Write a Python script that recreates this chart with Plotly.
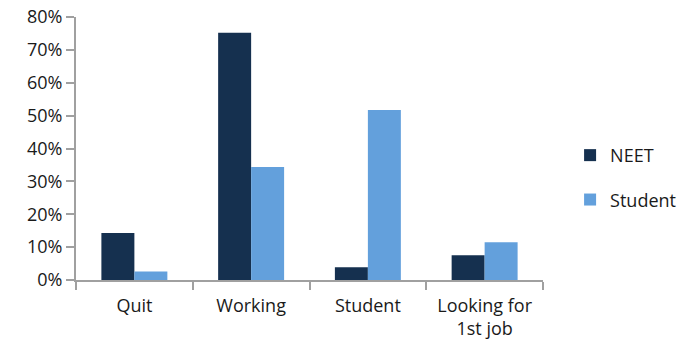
import plotly.graph_objects as go

categories = ["Quit", "Working", "Student", "Looking for<br>1st job"]
neet = [14.3, 75.2, 3.9, 7.5]
student = [2.6, 34.4, 51.7, 11.5]
y_ticks = [0, 10, 20, 30, 40, 50, 60, 70, 80]
y_tick_text = [f"{v}%" for v in y_ticks]

fig = go.Figure()
fig.add_trace(go.Bar(name="NEET", x=categories, y=neet, marker=dict(color="#15304F", line=dict(width=0)), legendgroup="a"))
fig.add_trace(go.Bar(name="Student", x=categories, y=student, marker=dict(color="#63A0DC", line=dict(width=0)), legendgroup="b"))

font = "'Open Sans', sans-serif"
fig.update_layout(
    width=680, height=349,
    margin=dict(l=76, r=137, t=17, b=69, autoexpand=False),
    paper_bgcolor="white", plot_bgcolor="white",
    barmode="group", bargap=0.435, bargroupgap=0,
    font=dict(family=font, size=18, color="#1a1a1a"),
    showlegend=True,
    legend=dict(x=1.058, y=0.39, xanchor="left", yanchor="middle", tracegroupgap=18,
                font=dict(size=18), bgcolor="rgba(0,0,0,0)"),
    xaxis=dict(showline=True, linecolor="#A0A0A0", linewidth=2, ticks="outside",
               tickson="boundaries", ticklen=8, tickcolor="#A0A0A0", tickwidth=2,
               showgrid=False, zeroline=False, tickfont=dict(size=18), ticklabelstandoff=8),
    yaxis=dict(range=[0, 80], tickvals=y_ticks, ticktext=y_tick_text, showline=True,
               linecolor="#A0A0A0", linewidth=2, ticks="outside", ticklen=8,
               tickcolor="#A0A0A0", tickwidth=2, showgrid=False, zeroline=False,
               tickfont=dict(size=18)),
)
fig.write_html("out.html")
